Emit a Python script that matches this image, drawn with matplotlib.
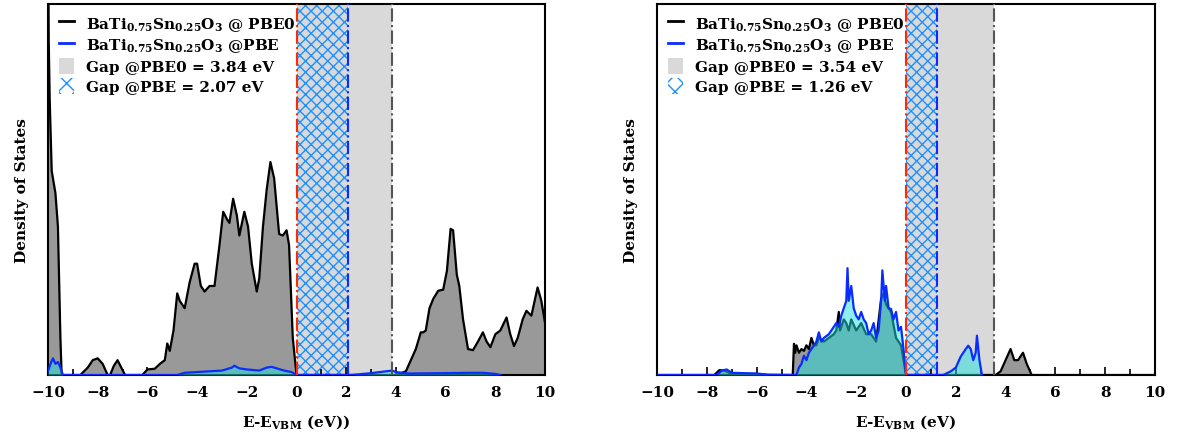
import numpy as np
import matplotlib
matplotlib.use('Agg')
import matplotlib.pyplot as plt
from matplotlib.lines import Line2D
from matplotlib.patches import Patch

plt.rcParams['font.family'] = 'DejaVu Serif'
plt.rcParams['font.weight'] = 'bold'
plt.rcParams['axes.labelweight'] = 'bold'
plt.rcParams['mathtext.fontset'] = 'dejavuserif'
plt.rcParams['mathtext.default'] = 'bf'
plt.rcParams['hatch.linewidth'] = 1.0
plt.rcParams['font.size'] = 11

# --- panel (a): DOS, arbitrary units ---
e_pbe0_a = [-10.0, -9.97, -9.93, -9.85, -9.7, -9.6, -9.5, -9.45, -8.7, -8.4, -8.2, -8.0, -7.8, -7.6,
            -7.5, -7.35, -7.2, -7.05, -6.9, -6.2, -6.0, -5.7, -5.5, -5.3, -5.2, -5.1, -4.95, -4.8,
            -4.7, -4.5, -4.3, -4.1, -4.0, -3.85, -3.7, -3.5, -3.3, -3.1, -2.95, -2.8, -2.7, -2.55,
            -2.4, -2.3, -2.1, -1.95, -1.8, -1.6, -1.5, -1.35, -1.2, -1.05, -0.9, -0.7, -0.55, -0.4,
            -0.3, -0.15, 0.0, 4.0, 4.2, 4.4, 4.6, 4.8, 5.0, 5.1, 5.2, 5.35, 5.5, 5.7, 5.9, 6.05, 6.2,
            6.3, 6.45, 6.55, 6.7, 6.9, 7.1, 7.3, 7.5, 7.65, 7.8, 8.0, 8.2, 8.45, 8.6, 8.75, 8.9, 9.1,
            9.25, 9.45, 9.7, 9.85, 10.0]
dos_pbe0_a = [1.3, 0.9, 0.74, 0.55, 0.49, 0.40, 0.10, 0.0, 0.0, 0.02, 0.04, 0.045, 0.03, 0.0,
              0.0, 0.025, 0.04, 0.02, 0.0, 0.0, 0.015, 0.017, 0.03, 0.04, 0.085, 0.065, 0.12, 0.22,
              0.20, 0.18, 0.25, 0.30, 0.30, 0.24, 0.225, 0.24, 0.24, 0.35, 0.44, 0.42, 0.41, 0.475,
              0.43, 0.376, 0.44, 0.40, 0.30, 0.225, 0.26, 0.40, 0.50, 0.574, 0.53, 0.38, 0.376, 0.39,
              0.35, 0.10, 0.0, 0.0, 0.005, 0.01, 0.04, 0.07, 0.115, 0.115, 0.12, 0.18, 0.205, 0.227,
              0.23, 0.28, 0.394, 0.39, 0.27, 0.24, 0.15, 0.07, 0.067, 0.09, 0.115, 0.09, 0.075, 0.11,
              0.12, 0.155, 0.11, 0.078, 0.10, 0.15, 0.173, 0.16, 0.236, 0.20, 0.14]
e_pbe_a = [-10.0, -9.9, -9.8, -9.7, -9.6, -9.5, -9.4, -4.8, -4.5, -4.0, -3.5, -3.0, -2.6, -2.5,
           -2.3, -2.0, -1.5, -1.2, -1.0, -0.8, -0.5, -0.2, 0.0, 2.2, 3.0, 3.6, 3.85, 4.0, 4.5,
           6.0, 7.0, 7.5, 8.0, 8.2]
dos_pbe_a = [0.01, 0.03, 0.045, 0.03, 0.035, 0.02, 0.0, 0.0, 0.006, 0.008, 0.01, 0.012, 0.02, 0.025,
             0.018, 0.015, 0.012, 0.02, 0.022, 0.018, 0.012, 0.008, 0.0, 0.0, 0.005, 0.01, 0.012,
             0.008, 0.004, 0.005, 0.006, 0.006, 0.003, 0.0]

# --- panel (b) ---
e_pbe0_b = [-10.0, -7.7, -7.5, -7.3, -7.0, -6.0, -5.6, -4.55, -4.5, -4.45, -4.4, -4.3, -4.2, -4.1,
            -4.0, -3.9, -3.8, -3.7, -3.6, -3.5, -3.3, -3.1, -2.9, -2.8, -2.7, -2.65, -2.5, -2.4,
            -2.3, -2.2, -2.0, -1.8, -1.6, -1.4, -1.2, -1.0, -0.9, -0.8, -0.6, -0.4, -0.2, 0.0,
            3.6, 3.8, 4.0, 4.2, 4.35, 4.5, 4.7, 4.85, 5.05, 10.0]
dos_pbe0_b = [0.0, 0.0, 0.013, 0.012, 0.003, 0.003, 0.0, 0.0, 0.084, 0.06, 0.08, 0.06, 0.07, 0.065,
              0.08, 0.07, 0.10, 0.08, 0.08, 0.10, 0.09, 0.10, 0.11, 0.12, 0.17, 0.12, 0.15, 0.14,
              0.12, 0.15, 0.12, 0.14, 0.11, 0.11, 0.09, 0.205, 0.22, 0.19, 0.17, 0.10, 0.08, 0.0,
              0.0, 0.01, 0.04, 0.07, 0.04, 0.04, 0.06, 0.03, 0.0, 0.0]
e_pbe_b = [-10.0, -7.6, -7.4, -7.2, -7.0, -6.0, -5.5, -4.4, -4.3, -4.2, -4.1, -4.0, -3.9, -3.8,
           -3.7, -3.6, -3.5, -3.4, -3.3, -3.1, -3.0, -2.9, -2.8, -2.7, -2.6, -2.5, -2.4, -2.35,
           -2.3, -2.2, -2.1, -2.0, -1.9, -1.8, -1.7, -1.6, -1.5, -1.4, -1.3, -1.2, -1.1, -1.0,
           -0.95, -0.85, -0.8, -0.7, -0.6, -0.5, -0.4, -0.3, -0.2, -0.1, 0.0, 1.5, 1.8, 2.0, 2.2,
           2.4, 2.5, 2.6, 2.7, 2.8, 2.85, 2.95, 3.05]
dos_pbe_b = [0.0, 0.0, 0.012, 0.015, 0.006, 0.004, 0.001, 0.0, 0.02, 0.03, 0.052, 0.04, 0.06, 0.07,
             0.08, 0.09, 0.115, 0.09, 0.10, 0.11, 0.12, 0.13, 0.14, 0.13, 0.16, 0.18, 0.20, 0.288,
             0.20, 0.24, 0.18, 0.16, 0.15, 0.17, 0.15, 0.14, 0.11, 0.12, 0.14, 0.10, 0.12, 0.20,
             0.282, 0.20, 0.24, 0.18, 0.178, 0.15, 0.17, 0.12, 0.13, 0.07, 0.0, 0.0, 0.01, 0.02, 0.05,
             0.07, 0.079, 0.07, 0.04, 0.06, 0.106, 0.04, 0.0]

gap_pbe0 = [3.84, 3.54]
gap_pbe = [2.07, 1.26]
pbe_labels = ['@PBE', '@ PBE']
xlabels = [r'E-E$_{\rm VBM}$ (eV))', r'E-E$_{\rm VBM}$ (eV)']

panels = [(e_pbe0_a, dos_pbe0_a, e_pbe_a, dos_pbe_a),
          (e_pbe0_b, dos_pbe0_b, e_pbe_b, dos_pbe_b)]

fig = plt.figure(figsize=(11.79, 4.35), dpi=100)
ax_pos = [[0.0407, 0.1356, 0.4216, 0.853], [0.5573, 0.1356, 0.4223, 0.853]]

for i, (e0, d0, e1, d1) in enumerate(panels):
    ax = fig.add_axes(ax_pos[i])
    ax.axvspan(0, gap_pbe0[i], color='#d9d9d9', lw=0, zorder=0)
    ax.axvspan(0, gap_pbe[i], facecolor='none', edgecolor='#1e90ff', hatch='xxx', lw=0, zorder=1)
    ax.fill_between(e0, d0, color='#999999', lw=0, zorder=2)
    ax.plot(e0, d0, color='black', lw=1.6, zorder=3)
    ax.fill_between(e1, d1, color='#20e0e0', alpha=0.5, lw=0, zorder=4)
    ax.plot(e1, d1, color='#0a2cff', lw=1.6, zorder=5)
    ax.axvline(0, color='#ff2a00', ls='-.', lw=1.5, zorder=6)
    ax.axvline(gap_pbe[i], color='#0a2cff', ls='-.', lw=1.5, zorder=6)
    ax.axvline(gap_pbe0[i], color='#555555', ls='-.', lw=1.5, zorder=6)

    ax.set_xlim(-10, 10)
    ax.set_ylim(0, 1)
    ax.set_xticks(np.arange(-10, 11, 2))
    ax.set_xticks(np.arange(-9, 10, 2), minor=True)
    ax.set_yticks([])
    ax.tick_params(axis='x', which='major', direction='in', length=6, width=1.2, labelsize=11, pad=7)
    ax.tick_params(axis='x', which='minor', direction='in', length=4, width=1.2)
    for s in ax.spines.values():
        s.set_linewidth(1.5)
    ax.set_xlabel(xlabels[i], fontsize=11, labelpad=10)
    ax.set_ylabel('Density of States', fontsize=11, labelpad=14)

    handles = [Line2D([], [], color='black', lw=2),
               Line2D([], [], color='#0a2cff', lw=2),
               Patch(facecolor='#d9d9d9', edgecolor='none'),
               Patch(facecolor='none', edgecolor='#1e90ff', hatch='xx', lw=0)]
    labels = [r'BaTi$_{0.75}$Sn$_{0.25}$O$_3$ @ PBE0',
              r'BaTi$_{0.75}$Sn$_{0.25}$O$_3$ ' + pbe_labels[i],
              'Gap @PBE0 = %.2f eV' % gap_pbe0[i],
              'Gap @PBE = %.2f eV' % gap_pbe[i]]
    ax.legend(handles, labels, loc='upper left', frameon=False, fontsize=11,
              handlelength=1.0, handleheight=1.2, handletextpad=0.8, labelspacing=0.25,
              borderaxespad=0.3)

fig.savefig('out.png', dpi=100)
